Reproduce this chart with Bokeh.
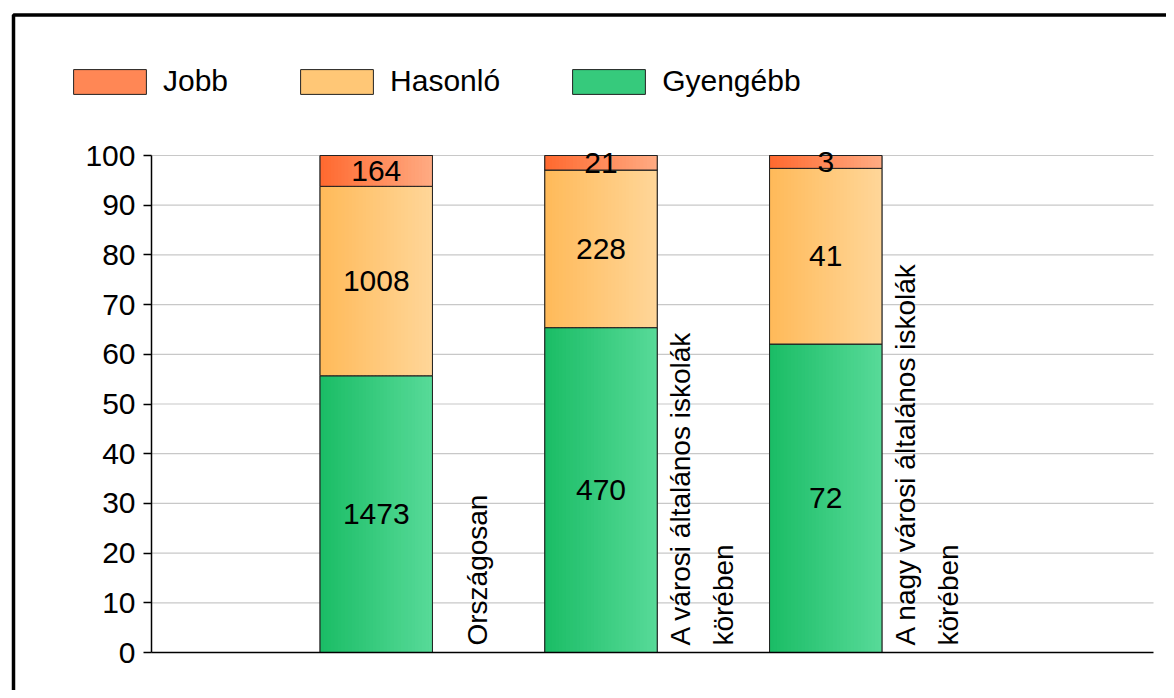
import numpy as np
from bokeh.plotting import figure
from bokeh.models import (Range1d, Legend, LegendItem, ColumnDataSource,
                          BoxAnnotation, FixedTicker, LinearAxis)
from bokeh.core.properties import value
from bokeh.embed import file_html
from bokeh.resources import INLINE

# ---- data ----
categories = ["Országosan",
              "A városi általános iskolák\nkörében",
              "A nagy városi általános iskolák\nkörében"]
series = ["Jobb", "Hasonló", "Gyengébb"]
gyengebb = [1473, 470, 72]
hasonlo = [1008, 228, 41]
jobb = [164, 21, 3]
y_ticks = [0, 10, 20, 30, 40, 50, 60, 70, 80, 90, 100]

# ---- layout (pixels) ----
W, H = 1166, 690
FRAME_L, FRAME_T = 10, 11
AXIS_X_PX = 151          # canvas x of the value axis
X_UNIT_PX = 224.75       # pixels per category step
Y0_PX = 652              # canvas y of value 0
Y_UNIT_PX = 4.97         # pixels per percent
PLOT_RIGHT_PX = 1153     # end of grid lines

FONT = "Liberation Sans"
FS = "30px"
grad = {
    "Jobb": ((255, 106, 48), (255, 170, 130)),
    "Hasonló": ((255, 186, 90), (255, 214, 152)),
    "Gyengébb": ((27, 189, 102), (87, 218, 152)),
}
BAR_W = 0.5
N_STRIPS = 32

def hexc(c):
    return "#%02x%02x%02x" % tuple(int(round(v)) for v in c)

def mix(a, b, t):
    return tuple(a[i] + (b[i] - a[i]) * t for i in range(3))

counts = {"Gyengébb": np.array(gyengebb, float),
          "Hasonló": np.array(hasonlo, float),
          "Jobb": np.array(jobb, float)}
total = counts["Gyengébb"] + counts["Hasonló"] + counts["Jobb"]
xc = np.arange(1, len(categories) + 1, dtype=float)

x_start = (FRAME_L - AXIS_X_PX) / X_UNIT_PX
x_end = (W - AXIS_X_PX) / X_UNIT_PX
x_plot_end = (PLOT_RIGHT_PX - AXIS_X_PX) / X_UNIT_PX
y_start = -(H - Y0_PX) / Y_UNIT_PX
y_end = (Y0_PX - FRAME_T) / Y_UNIT_PX

p = figure(width=W, height=H, output_backend="svg", toolbar_location=None,
           x_range=Range1d(x_start, x_end), y_range=Range1d(y_start, y_end),
           x_axis_location=None, y_axis_location=None,
           min_border_left=FRAME_L, min_border_top=FRAME_T, min_border_right=0,
           min_border_bottom=0)
p.outline_line_color = None
p.background_fill_color = "white"
p.border_fill_color = "white"
p.grid.visible = False

# horizontal grid lines (from the tick values, limited to the plot area)
gt = y_ticks[1:]
p.segment(x0=[0] * len(gt), x1=[x_plot_end] * len(gt), y0=gt, y1=gt,
          line_color="#c8c8c8", line_width=1.2)

# value axis and base line, fixed inside the frame
yaxis = LinearAxis(fixed_location=0, bounds=(0, 100), ticker=FixedTicker(ticks=y_ticks))
yaxis.major_label_text_font = FONT
yaxis.major_label_text_font_size = FS
yaxis.major_label_text_color = "black"
yaxis.major_tick_out = 8
yaxis.major_tick_in = 0
yaxis.minor_tick_line_color = None
yaxis.major_label_standoff = 8
yaxis.axis_line_color = "black"
yaxis.axis_line_width = 1.5
yaxis.major_tick_line_color = "black"
yaxis.major_tick_line_width = 1.5
p.add_layout(yaxis, "left")

xaxis = LinearAxis(fixed_location=0, bounds=(0, x_plot_end), ticker=FixedTicker(ticks=[]))
xaxis.major_tick_line_color = None
xaxis.minor_tick_line_color = None
xaxis.axis_line_color = "black"
xaxis.axis_line_width = 1.5
p.add_layout(xaxis, "below")

stack_order = ["Gyengébb", "Hasonló", "Jobb"]
bottom = np.zeros(len(categories))
legend_renderers = {}
label_x, label_y, label_t = [], [], []
dw = BAR_W / N_STRIPS
for s in stack_order:
    pct = counts[s] / total * 100.0
    top = bottom + pct
    c0, c1 = grad[s]
    r = p.vbar(x=xc, width=BAR_W, bottom=bottom, top=top,
               fill_color=hexc(mix(c0, c1, 0.45)), line_color="#222222", line_width=1)
    legend_renderers[s] = r
    L, R, B, T, C = [], [], [], [], []
    for i in range(len(categories)):
        x0 = xc[i] - BAR_W / 2
        x1 = xc[i] + BAR_W / 2
        for k in range(N_STRIPS):
            l = x0 + k * dw
            L.append(l)
            R.append(min(l + 1.6 * dw, x1))
            B.append(bottom[i])
            T.append(top[i])
            C.append(hexc(mix(c0, c1, k / (N_STRIPS - 1))))
    p.quad(left=L, right=R, bottom=B, top=T, fill_color=C, line_color=None)
    p.vbar(x=xc, width=BAR_W, bottom=bottom, top=top, fill_color=None,
           line_color="#222222", line_width=1)
    for i in range(len(categories)):
        label_x.append(xc[i])
        label_y.append((bottom[i] + top[i]) / 2)
        label_t.append(str(int(counts[s][i])))
    bottom = top

p.text(x=label_x, y=label_y, text=label_t, text_align="center",
       text_baseline="middle", text_font=value(FONT), text_font_size=FS,
       text_color="black")

# category labels (rotated, right of each bar)
cx, cy, ct, cof = [], [], [], []
for i, name in enumerate(categories):
    lines = name.split("\n")
    n = len(lines)
    for j, ln in enumerate(lines):
        cx.append(xc[i] + 0.45)
        cy.append(1.4)
        ct.append(ln)
        cof.append((j - (n - 1) / 2) * 43)
csrc = ColumnDataSource(dict(x=cx, y=cy, text=ct, xo=cof))
p.text(x="x", y="y", text="text", x_offset="xo", source=csrc, angle=np.pi / 2,
       text_align="left", text_baseline="middle", text_font=value(FONT),
       text_font_size="28px", text_color="black")

# legend (legend patches are drawn 10% inset from the glyph box)
GW, GH = 91, 31
legend = Legend(items=[LegendItem(label=s, renderers=[legend_renderers[s]]) for s in series],
                orientation="horizontal", location=(64 - FRAME_L, H - 98),
                glyph_width=GW, glyph_height=GH, label_standoff=8, spacing=63,
                padding=0, margin=0, border_line_color=None,
                background_fill_alpha=0, label_text_font=FONT,
                label_text_font_size=FS, label_text_color="black")
p.add_layout(legend, "center")

# outer black frame (left and top edges visible)
p.add_layout(BoxAnnotation(left=13, right=5000, top=14.5, bottom=5000,
                           left_units="canvas", right_units="canvas",
                           top_units="canvas", bottom_units="canvas",
                           fill_color=None, fill_alpha=0, line_color="black",
                           line_alpha=1.0, line_width=3.5))

open("out.html", "w").write(file_html(p, INLINE))
